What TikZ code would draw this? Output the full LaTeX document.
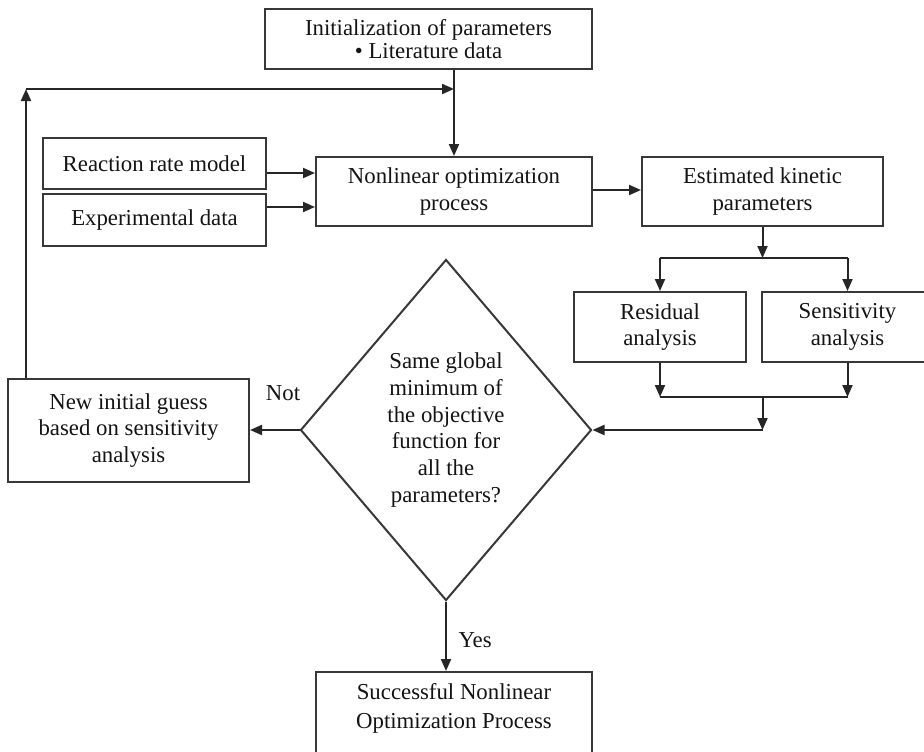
\documentclass[tikz,border=0pt]{standalone}
\usepackage{fontspec}
\setmainfont{Liberation Serif}
\usetikzlibrary{shapes.geometric,arrows.meta,calc}
\begin{document}
\begin{tikzpicture}[x=1pt,y=-1pt,
  every node/.style={font=\fontsize{22.8}{26.8}\selectfont, text=black!92},
  box/.style={draw=black!78, line width=2pt, inner sep=0pt, align=center},
  conn/.style={draw=black!85, line width=2pt},
  arr/.style={conn, -{Triangle[length=12pt,width=10pt]}}]
\clip (0,0) rectangle (924,752);
\fill[white] (0,0) rectangle (924,752);

\node[box, minimum width=327pt, minimum height=60pt, font=\fontsize{22.8}{23}\selectfont] (init) at (428.5,39) {Initialization of parameters\\\textbullet{} Literature data};
\node[box, minimum width=223pt, minimum height=51pt] (rrm) at (154.5,163.5) {Reaction rate model};
\node[box, minimum width=223pt, minimum height=52pt] (exp) at (154.5,220) {Experimental data};
\node[box, minimum width=276pt, minimum height=69pt] (nl) at (454,191.5) {Nonlinear optimization\\process};
\node[box, minimum width=241pt, minimum height=69pt] (est) at (762.5,191.5) {Estimated kinetic\\parameters};
\node[box, minimum width=172pt, minimum height=70pt] (res) at (660,327) {Residual\\analysis};
\node[box, minimum width=171pt, minimum height=70pt] (sens) at (847.5,327) {Sensitivity\\analysis};
\node[box, shape=diamond, minimum width=291pt, minimum height=341pt] (dia) at (446,430) {Same global\\minimum of\\the objective\\function for\\all the\\parameters?};
\node[box, minimum width=241pt, minimum height=103pt] (guess) at (128.5,430.5) {New initial guess\\based on sensitivity\\analysis};
\node[box, anchor=north, minimum width=276pt, inner ysep=11pt, text depth=60pt, font=\fontsize{22.8}{29}\selectfont] (succ) at (454,671) {Successful Nonlinear\\Optimization Process};

\node (notl) at (283,393) {Not};
\node[anchor=west] (yesl) at (455,640) {Yes};

% feedback loop
\coordinate (corner) at (26,89);
\coordinate (junc) at (454,89);
\draw[arr] (corner |- guess.north) -- (corner);
\draw[arr] (corner) -- (junc);
\draw[arr] (init.south -| nl.north) -- (nl.north);

% inputs
\draw[arr] ([yshift=-9.5pt]rrm.east) -- ([yshift=-9.5pt]rrm.east -| nl.west);
\draw[arr] ([yshift=13pt]exp.east) -- ([yshift=13pt]exp.east -| nl.west);
\draw[arr] (nl.east |- 0,190) -- (est.west |- 0,190);

% split
\coordinate (split) at (762.5,258);
\draw[arr] (est.south) -- (split);
\draw[conn] (res.north |- split) -- (sens.north |- split);
\draw[arr] (res.north |- split) -- (res.north);
\draw[arr] (sens.north |- split) -- (sens.north);

% merge
\coordinate (merge) at (762.5,397);
\coordinate (down) at (merge |- dia.east);
\draw[arr] (res.south) -- (res.south |- merge);
\draw[arr] (sens.south) -- (sens.south |- merge);
\draw[conn] (res.south |- merge) -- (sens.south |- merge);
\draw[arr] (merge) -- (down);
\draw[arr] (down) -- (dia.east);

% decisions
\draw[arr] (dia.west) -- (guess.east |- dia.west);
\draw[arr] (dia.south) -- (dia.south |- succ.north);
\end{tikzpicture}
\end{document}
